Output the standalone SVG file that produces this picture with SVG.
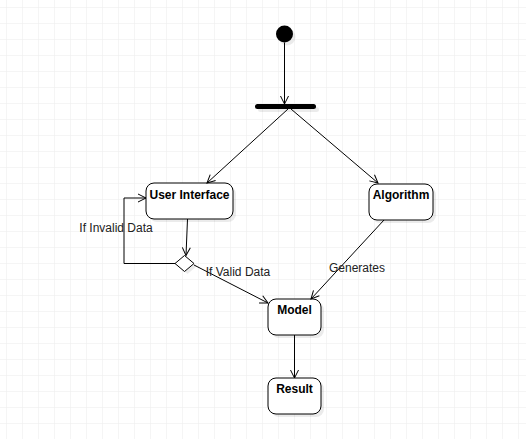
<svg xmlns="http://www.w3.org/2000/svg" width="526" height="439" viewBox="0 0 526 439">
<defs>
<pattern id="grid" x="6" y="7" width="16" height="16" patternUnits="userSpaceOnUse">
<path d="M0,0 L16,0 M0,0 L0,16" fill="none" stroke="#ebebeb" stroke-width="1"/>
</pattern>
<marker id="arr" markerWidth="12" markerHeight="12" refX="9" refY="5" orient="auto" markerUnits="userSpaceOnUse">
<path d="M1,1 L9,5 L1,9" fill="none" stroke="#000" stroke-width="1"/>
</marker>
<style>
.node{fill:#fff;stroke:#000;stroke-width:1}
.shadow{fill:#000;opacity:0.08}
.lbl{font-family:"Liberation Sans",Arial,sans-serif;font-size:12px;font-weight:bold;fill:#000;text-anchor:middle}
.elbl{font-family:"Liberation Sans",Arial,sans-serif;font-size:12px;fill:#222;text-anchor:middle}
.edge{fill:none;stroke:#000;stroke-width:1;marker-end:url(#arr)}
</style>
</defs>
<rect x="0" y="0" width="526" height="439" fill="#fff"/>
<rect x="0" y="0" width="526" height="439" fill="url(#grid)"/>

<g id="start">
<circle class="shadow" cx="287" cy="37" r="8.5"/>
<circle cx="284.5" cy="34" r="8.5" fill="#000"/>
</g>
<g id="fork">
<rect class="shadow" x="258" y="107" width="61" height="5" rx="2.5"/>
<rect x="255" y="104" width="61" height="5" rx="2.5" fill="#000"/>
</g>
<g id="user-interface">
<rect class="shadow" x="149" y="186" width="87" height="36" rx="8"/>
<rect class="node" x="146" y="183" width="87" height="36" rx="8"/>
<text class="lbl" x="189.5" y="199">User Interface</text>
</g>
<g id="algorithm">
<rect class="shadow" x="372" y="187" width="64" height="36" rx="8"/>
<rect class="node" x="369" y="184" width="64" height="36" rx="8"/>
<text class="lbl" x="401" y="199">Algorithm</text>
</g>
<g id="decision">
<path class="shadow" d="M187.5,258 L197,266 L187.5,274 L178,266 Z"/>
<path class="node" d="M184.5,255.5 L194,263.5 L184.5,271.5 L175,263.5 Z"/>
</g>
<g id="model">
<rect class="shadow" x="271" y="302" width="53" height="36" rx="8"/>
<rect class="node" x="268" y="299" width="53" height="36" rx="8"/>
<text class="lbl" x="294.5" y="314">Model</text>
</g>
<g id="result">
<rect class="shadow" x="271" y="381" width="53" height="36" rx="8"/>
<rect class="node" x="268" y="378" width="53" height="36" rx="8"/>
<text class="lbl" x="294.5" y="393">Result</text>
</g>

<g id="connectors">
<path class="edge" d="M284.5,42.5 L284.5,104"/>
<path class="edge" d="M288,109 L207,183"/>
<path class="edge" d="M291,109 L378,183"/>
<path class="edge" d="M187.5,219 L186,255.5"/>
<path class="edge" d="M175,263.5 L124,263.5 L124,198 L146,198"/>
<path class="edge" d="M194,265 L268,303"/>
<path class="edge" d="M384,220 L311,299"/>
<path class="edge" d="M294.5,335 L294.5,378"/>
<text class="elbl" x="116" y="232">If Invalid Data</text>
<text class="elbl" x="238" y="276">If Valid Data</text>
<text class="elbl" x="357" y="272">Generates</text>
</g>
</svg>
